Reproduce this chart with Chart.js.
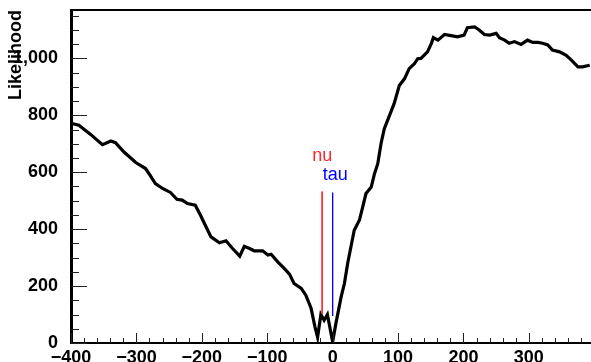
<!DOCTYPE html>
<html>
<head>
<meta charset="utf-8">
<title>Likelihood scan</title>
<script src="https://cdn.jsdelivr.net/npm/chart.js@4.4.0/dist/chart.umd.min.js"></script>
<style>
    html, body { margin: 0; padding: 0; background: #fff; }
    #wrap { width: 591px; height: 362px; }
</style>
</head>
<body>
<div id="wrap"><canvas id="scanChart" width="591" height="362"></canvas></div>
<script>
// Scan points
var scanX = [-400, -388, -370, -352, -339, -332, -319, -301, -286, -279, -271, -260, -248, -238, -230, -222,
    -210, -202, -196, -186, -173, -163, -153, -142, -135, -127, -120, -107, -99, -94, -84, -74, -66, -59,
    -48, -41, -33, -27, -23, -18, -13, -8, 0, 5, 13, 18, 23, 28, 33, 41, 46, 51, 59, 64, 69, 74, 79, 87,
    94, 102, 110, 117, 125, 130, 135, 145, 151, 154, 161, 171, 181, 191, 201, 206, 217, 224, 232, 240,
    250, 255, 263, 270, 278, 288, 298, 306, 314, 321, 329, 336, 347, 357, 365, 375, 382, 393];
var scanLikelihood = [772, 765, 733, 697, 710, 704, 671, 634, 613, 589, 560, 543, 529, 505, 502, 490,
    484, 449, 420, 373, 352, 359, 332, 305, 340, 332, 324, 324, 309, 312, 285, 262, 242, 209,
    192, 168, 122, 57, 20, 100, 80, 100, 4, 69, 162, 209, 280, 338, 396, 432, 478, 525, 548, 595, 630, 701, 753, 800,
    841, 905, 929, 964, 981, 999, 1000, 1023, 1053, 1073, 1064, 1084, 1080, 1076, 1082, 1108, 1111, 1100, 1084, 1082,
    1088, 1073, 1064, 1053, 1059, 1049, 1064, 1056, 1056, 1053, 1047, 1029, 1023, 1011, 994, 970, 970, 976];

// Markers: x position, line from/to in likelihood units, label position
var nuMarkerX = [-16, -16];
var nuMarkerY = [532, 102];
var tauMarkerX = [0, 0];
var tauMarkerY = [528, 95];
var markerLabels = ['nu', 'tau'];
var markerLabelX = [-16, 4];
var markerLabelY = [640, 572];

// Axes
var xRange = [-400, 395];
var yRange = [0, 1170];
var xTickStep = 100;
var yTickStep = 200;

var RED = 'rgb(255, 40, 40)';
var BLUE = 'rgb(0, 0, 255)';
var FONT = '"Liberation Sans", Arial, Helvetica, sans-serif';

function toPoints(xs, ys) {
    return xs.map(function(x, i) { return { x: x, y: ys[i] }; });
}

// ROOT style inward ticks, top frame line and marker labels
var frameTicks = {
    id: 'frameTicks',
    afterDatasetsDraw: function(chart) {
        var ctx = chart.ctx;
        var area = chart.chartArea;
        var xs = chart.scales.x;
        var ys = chart.scales.y;
        var v;

        ctx.save();
        ctx.strokeStyle = '#222';
        ctx.lineWidth = 1;
        ctx.beginPath();
        for (v = xRange[0]; v <= xRange[1]; v += 20) {
            var px = Math.round(xs.getPixelForValue(v)) + 0.5;
            var len = (v % xTickStep === 0) ? 10 : 5;
            ctx.moveTo(px, area.bottom);
            ctx.lineTo(px, area.bottom - len);
        }
        for (v = yRange[0]; v <= yRange[1]; v += 50) {
            var py = Math.round(ys.getPixelForValue(v)) + 0.5;
            var l = (v % yTickStep === 0) ? 16 : 8;
            ctx.moveTo(area.left, py);
            ctx.lineTo(area.left + l, py);
        }
        ctx.stroke();

        // top of the frame
        ctx.strokeStyle = '#000';
        ctx.lineWidth = 2;
        ctx.beginPath();
        ctx.moveTo(area.left, area.top);
        ctx.lineTo(area.right, area.top);
        ctx.stroke();

        // marker labels
        ctx.font = '18px ' + FONT;
        ctx.textAlign = 'center';
        ctx.textBaseline = 'alphabetic';
        var colors = [RED, BLUE];
        markerLabels.forEach(function(txt, i) {
            ctx.fillStyle = colors[i];
            ctx.fillText(txt, xs.getPixelForValue(markerLabelX[i]), ys.getPixelForValue(markerLabelY[i]));
        });
        ctx.restore();
    }
};

var ctx = document.getElementById('scanChart').getContext('2d');
var chart = new Chart(ctx, {
    type: 'scatter',
    data: {
        datasets: [{
            label: 'scan',
            data: toPoints(scanX, scanLikelihood),
            showLine: true,
            borderColor: '#000',
            borderWidth: 3.2,
            pointRadius: 0,
            tension: 0,
            order: 2
        }, {
            label: 'nu',
            data: toPoints(nuMarkerX, nuMarkerY),
            showLine: true,
            borderColor: RED,
            borderWidth: 1,
            pointRadius: 0,
            order: 1
        }, {
            label: 'tau',
            data: toPoints(tauMarkerX, tauMarkerY),
            showLine: true,
            borderColor: BLUE,
            borderWidth: 1,
            pointRadius: 0,
            order: 1
        }]
    },
    options: {
        responsive: false,
        animation: false,
        layout: { padding: { top: 10, right: 0, left: 0, bottom: 0 } },
        plugins: {
            legend: { display: false },
            tooltip: { enabled: false }
        },
        scales: {
            x: {
                type: 'linear',
                min: xRange[0],
                max: xRange[1],
                grid: { display: false },
                border: { display: true, color: '#000', width: 2 },
                afterBuildTicks: function(scale) {
                    var t = [];
                    for (var v = xRange[0]; v <= xRange[1]; v += xTickStep) t.push({ value: v });
                    scale.ticks = t;
                },
                afterFit: function(scale) {
                    scale.height = 19;
                    scale.paddingLeft = 0;
                    scale.paddingRight = 0;
                },
                ticks: {
                    color: '#000',
                    padding: -4,
                    maxRotation: 0,
                    autoSkip: false,
                    font: { family: FONT, size: 18, weight: 'bold' },
                    callback: function(v) { return String(v).replace('-', '\u2212'); }
                }
            },
            y: {
                type: 'linear',
                min: yRange[0],
                max: yRange[1],
                grid: { display: false },
                border: { display: true, color: '#000', width: 3 },
                afterBuildTicks: function(scale) {
                    var t = [];
                    for (var v = yRange[0]; v <= yRange[1]; v += yTickStep) t.push({ value: v });
                    scale.ticks = t;
                },
                afterFit: function(scale) {
                    scale.width = 71;
                    scale.paddingTop = 0;
                    scale.paddingBottom = 0;
                },
                title: {
                    display: true,
                    text: 'Likelihood',
                    align: 'end',
                    color: '#000',
                    padding: { top: 5, bottom: 0 },
                    font: { family: FONT, size: 18, weight: 'bold' }
                },
                ticks: {
                    color: '#000',
                    padding: 5,
                    autoSkip: false,
                    font: { family: FONT, size: 18, weight: 'bold' }
                }
            }
        }
    },
    plugins: [frameTicks]
});
</script>
</body>
</html>
